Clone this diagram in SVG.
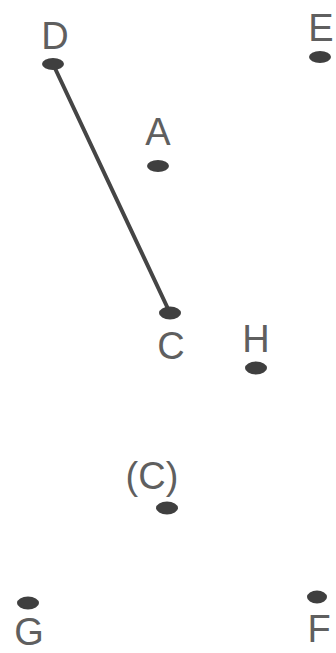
<svg xmlns="http://www.w3.org/2000/svg" width="336" height="653" viewBox="0 0 336 653">
<style>
.lbl{font-family:"Liberation Sans",Arial,sans-serif;font-size:38px;fill:#5f5f5f;text-anchor:middle}
.dot{fill:#3f3f3f}
.edge{stroke:#454545;stroke-width:4;stroke-linecap:round;fill:none}
</style>
<rect width="336" height="653" fill="#ffffff"/>
<g id="connectors">
<line class="edge" x1="53" y1="64" x2="170" y2="313"/>
</g>
<g id="D"><text class="lbl" x="55" y="49">D</text><ellipse class="dot" cx="53" cy="64" rx="11" ry="6"/></g>
<g id="E"><text class="lbl" x="321" y="41">E</text><ellipse class="dot" cx="320" cy="57" rx="11" ry="6"/></g>
<g id="A"><text class="lbl" x="158" y="145">A</text><ellipse class="dot" cx="158" cy="166" rx="11" ry="6"/></g>
<g id="C"><ellipse class="dot" cx="170" cy="313" rx="11" ry="6.5"/><text class="lbl" x="171" y="359">C</text></g>
<g id="H"><text class="lbl" x="256" y="352">H</text><ellipse class="dot" cx="256" cy="368" rx="11" ry="6.5"/></g>
<g id="C2"><text class="lbl" x="152" y="489">(C)</text><ellipse class="dot" cx="167" cy="508" rx="11" ry="6.5"/></g>
<g id="G"><ellipse class="dot" cx="28" cy="603" rx="11" ry="6.5"/><text class="lbl" x="29" y="645">G</text></g>
<g id="F"><ellipse class="dot" cx="317" cy="597" rx="10" ry="6.5"/><text class="lbl" x="319" y="642">F</text></g>
</svg>
